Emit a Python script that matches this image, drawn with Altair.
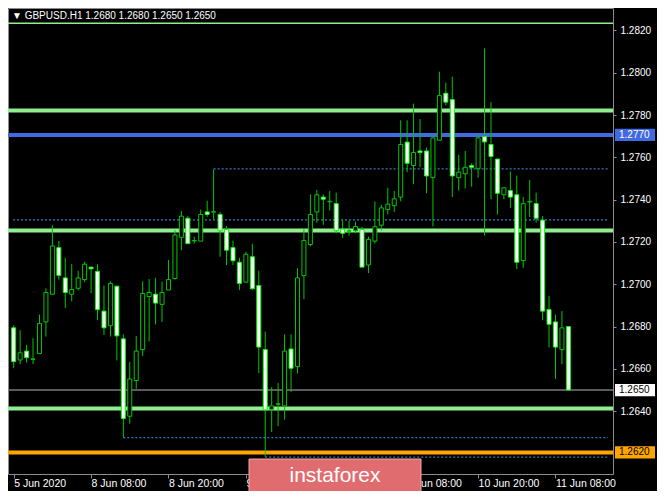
import json
import altair as alt
import pandas as pd

# ---------------- data (GBPUSD H1) ----------------
opens = [1.26794, 1.26642, 1.26684, 1.26645, 1.26672, 1.26822, 1.26953, 1.27173, 1.27030, 1.26953,
         1.26981, 1.27022, 1.27081, 1.27061, 1.26873, 1.26804, 1.26991, 1.26742, 1.26376, 1.26545,
         1.26691, 1.26942, 1.26953, 1.26905, 1.26973, 1.27027, 1.27222, 1.27312, 1.27205, 1.27204,
         1.27342, 1.27341, 1.27330, 1.27259, 1.27173, 1.27104, 1.27010, 1.27130, 1.26994, 1.26691,
         1.26409, 1.26433, 1.26425, 1.26694, 1.26611, 1.27041, 1.27188, 1.27342, 1.27412, 1.27390,
         1.27381, 1.27261, 1.27251, 1.27253, 1.27259, 1.27091, 1.27204, 1.27279, 1.27353, 1.27372,
         1.27412, 1.27672, 1.27561, 1.27630, 1.27630, 1.27504, 1.27681, 1.27903, 1.27873, 1.27504,
         1.27522, 1.27561, 1.27546, 1.27698, 1.27661, 1.27592, 1.27423, 1.27443, 1.27423, 1.27112,
         1.27389, 1.27381, 1.27303, 1.26880, 1.26822, 1.26691, 1.26800]
highs = [1.26806, 1.26783, 1.26714, 1.26745, 1.26856, 1.26981, 1.27279, 1.27204, 1.27125, 1.27095,
         1.27064, 1.27107, 1.27081, 1.27095, 1.26994, 1.27014, 1.26991, 1.26764, 1.26633, 1.26756,
         1.27014, 1.27025, 1.27030, 1.27013, 1.27115, 1.27256, 1.27346, 1.27322, 1.27225, 1.27353,
         1.27395, 1.27543, 1.27342, 1.27275, 1.27207, 1.27125, 1.27153, 1.27192, 1.27064, 1.26776,
         1.26514, 1.26533, 1.26764, 1.26764, 1.27076, 1.27261, 1.27425, 1.27446, 1.27425, 1.27441,
         1.27433, 1.27303, 1.27299, 1.27296, 1.27272, 1.27225, 1.27392, 1.27376, 1.27456, 1.27441,
         1.27775, 1.27775, 1.27854, 1.27781, 1.27646, 1.27695, 1.28005, 1.27954, 1.27982, 1.27612,
         1.27630, 1.27572, 1.27704, 1.28115, 1.27861, 1.27592, 1.27456, 1.27533, 1.27514, 1.27413,
         1.27493, 1.27433, 1.27322, 1.26945, 1.26856, 1.26873, 1.26800]
lows = [1.26603, 1.26622, 1.26630, 1.26622, 1.26672, 1.26753, 1.26953, 1.27022, 1.26888, 1.26919,
        1.26971, 1.27010, 1.26958, 1.26830, 1.26760, 1.26753, 1.26640, 1.26275, 1.26340, 1.26506,
        1.26661, 1.26730, 1.26810, 1.26822, 1.26973, 1.27022, 1.27161, 1.27192, 1.27192, 1.27204,
        1.27319, 1.27307, 1.27130, 1.27091, 1.27091, 1.26973, 1.27010, 1.26973, 1.26580, 1.26183,
        1.26302, 1.26329, 1.26360, 1.26491, 1.26579, 1.26930, 1.27179, 1.27291, 1.27281, 1.27349,
        1.27241, 1.27219, 1.27230, 1.27241, 1.27081, 1.27053, 1.27192, 1.27253, 1.27330, 1.27342,
        1.27392, 1.27530, 1.27473, 1.27553, 1.27430, 1.27273, 1.27681, 1.27846, 1.27412, 1.27443,
        1.27453, 1.27461, 1.27504, 1.27230, 1.27402, 1.27330, 1.27402, 1.27361, 1.27072, 1.27078,
        1.27318, 1.27291, 1.26830, 1.26702, 1.26552, 1.26622, 1.26500]
closes = [1.26634, 1.26676, 1.26653, 1.26647, 1.26814, 1.26961, 1.27181, 1.27042, 1.26961, 1.26975,
          1.27030, 1.27095, 1.27073, 1.26880, 1.26794, 1.27004, 1.26756, 1.26365, 1.26552, 1.26684,
          1.26956, 1.26961, 1.26911, 1.26961, 1.27022, 1.27233, 1.27322, 1.27192, 1.27207, 1.27330,
          1.27330, 1.27343, 1.27253, 1.27161, 1.27111, 1.27004, 1.27142, 1.26979, 1.26703, 1.26406,
          1.26425, 1.26435, 1.26684, 1.26603, 1.27030, 1.27207, 1.27330, 1.27423, 1.27402, 1.27392,
          1.27253, 1.27241, 1.27253, 1.27273, 1.27081, 1.27212, 1.27272, 1.27361, 1.27379, 1.27404,
          1.27661, 1.27572, 1.27623, 1.27623, 1.27512, 1.27692, 1.27892, 1.27861, 1.27512, 1.27530,
          1.27553, 1.27553, 1.27692, 1.27673, 1.27604, 1.27430, 1.27456, 1.27412, 1.27104, 1.27381,
          1.27392, 1.27312, 1.26873, 1.26811, 1.26703, 1.26794, 1.26500]

x_tick_pos = [0, 12, 24, 36, 48, 60, 72, 84]
x_tick_labels = ["5 Jun 2020", "8 Jun 08:00", "8 Jun 20:00", "9 Jun 08:00",
                 "9 Jun 20:00", "10 Jun 08:00", "10 Jun 20:00", "11 Jun 08:00"]
y_ticks = [1.2640, 1.2660, 1.2680, 1.2700, 1.2720, 1.2740, 1.2760, 1.2780, 1.2800, 1.2820]

# horizontal levels
solid_prices = [1.28234, 1.27821, 1.27706, 1.27254, 1.26413, 1.26205, 1.26500]
solid_colors = ["#90ee90", "#90ee90", "#4169e1", "#90ee90", "#90ee90", "#ffa500", "#7a7a7a"]
solid_widths = [1.5, 4, 4, 4, 4, 4, 1.5]

dotted_prices = [1.27545, 1.27304, 1.26275, 1.26183]
dotted_start = [31, -0.105, 17, 39]

label_prices = [1.27706, 1.26500, 1.26205]
label_texts = ["1.2770", "1.2650", "1.2620"]
label_fills = ["#4169e1", "#ffffff", "#ffa500"]
label_text_colors = ["#ffffff", "#000000", "#000000"]

header_text = ["\u25bc GBPUSD.H1  1.2680 1.2680 1.2650 1.2650"]
watermark_text = ["instaforex"]

# ---------------- chart ----------------
W, H = 605, 466
XMIN, XMAX = -0.105, 92.14
YMIN, YMAX = 1.26103, 1.28306

candles = pd.DataFrame({
    "i": list(range(len(opens))),
    "open": opens, "high": highs, "low": lows, "close": closes,
})
candles["dir"] = ["up" if c > o else "down" for o, c in zip(opens, closes)]

xs = alt.Scale(domain=[XMIN, XMAX], nice=False, zero=False)
ys = alt.Scale(domain=[YMIN, YMAX], nice=False, zero=False)

label_expr = f"{json.dumps(x_tick_labels)}[indexof({json.dumps(x_tick_pos)}, datum.value)]"

x_axis = alt.Axis(values=x_tick_pos, labelExpr=label_expr, tickSize=4, labelPadding=0,
                  labelAlign="left", labelBaseline="top", labelFontSize=10.5, grid=False,
                  domain=False, title=None, labelFlush=False, labelOverlap=False,
                  labelColor="#ffffff", tickColor="#8c8c8c", labelFont="Liberation Sans")
y_axis = alt.Axis(orient="right", values=y_ticks, format=".4f", tickSize=3, labelPadding=4,
                  grid=False, domain=False, title=None, labelFontSize=10, labelOverlap=False,
                  labelColor="#ffffff", tickColor="#8c8c8c", labelFont="Liberation Sans")

solid_df = pd.DataFrame({"price": solid_prices, "color": solid_colors, "w": solid_widths})
solid = alt.Chart(solid_df).mark_rule().encode(
    y=alt.Y("price:Q", scale=ys, axis=y_axis),
    color=alt.Color("color:N", scale=None),
    strokeWidth=alt.StrokeWidth("w:Q", scale=None),
)

dotted_df = pd.DataFrame({"price": dotted_prices, "start": dotted_start,
                          "end": [XMAX] * len(dotted_prices)})
dotted = alt.Chart(dotted_df).mark_rule(color="#3579c8", strokeWidth=1.2, strokeDash=[2, 2]).encode(
    x=alt.X("start:Q", scale=xs, axis=x_axis),
    x2="end:Q",
    y=alt.Y("price:Q", scale=ys, axis=y_axis),
)

wicks = alt.Chart(candles).mark_rule(color="#00c800", strokeWidth=1).encode(
    x=alt.X("i:Q", scale=xs, axis=x_axis),
    y=alt.Y("low:Q", scale=ys, axis=y_axis),
    y2="high:Q",
)

bodies = alt.Chart(candles).mark_bar(size=4, strokeWidth=1).encode(
    x=alt.X("i:Q", scale=xs, axis=x_axis),
    y=alt.Y("open:Q", scale=ys, axis=y_axis),
    y2="close:Q",
    fill=alt.Fill("dir:N", scale=alt.Scale(domain=["up", "down"], range=["#000000", "#ffffff"]),
                  legend=None),
    stroke=alt.Stroke("dir:N", scale=alt.Scale(domain=["up", "down"], range=["#00c800", "#00ff00"]),
                      legend=None),
)

lab_df = pd.DataFrame({"price": label_prices, "txt": label_texts,
                       "fill": label_fills, "tc": label_text_colors})
lab_boxes = alt.Chart(lab_df).transform_calculate(
    lo="datum.price - 0.00029", hi="datum.price + 0.00029"
).mark_rect().encode(
    x=alt.value(W + 2), x2=alt.value(W + 42),
    y=alt.Y("lo:Q", scale=ys, axis=y_axis), y2="hi:Q",
    fill=alt.Fill("fill:N", scale=None),
)
lab_text = alt.Chart(lab_df).mark_text(align="left", baseline="middle", font="Liberation Sans",
                                       fontSize=10).encode(
    x=alt.value(W + 6),
    y=alt.Y("price:Q", scale=ys, axis=y_axis),
    text="txt:N",
    color=alt.Color("tc:N", scale=None),
)

header = alt.Chart(pd.DataFrame({"t": header_text})).mark_text(
    align="left", baseline="middle", font="Liberation Sans", fontSize=10, color="#ffffff"
).encode(x=alt.value(4), y=alt.value(8), text="t:N")

wm_box = alt.Chart(pd.DataFrame({"t": watermark_text})).mark_rect(
    fill="#e16c6f", stroke="#f2a6a6", strokeWidth=1
).encode(x=alt.value(241), x2=alt.value(413), y=alt.value(451), y2=alt.value(490))
wm_text = alt.Chart(pd.DataFrame({"t": watermark_text})).mark_text(
    align="center", baseline="middle", font="Liberation Sans", fontSize=21, color="#ffffff"
).encode(x=alt.value(327), y=alt.value(468), text="t:N")

chart = alt.layer(
    solid, dotted, wicks, bodies, lab_boxes, lab_text, header, wm_box, wm_text
).properties(
    width=W, height=H,
    autosize=alt.AutoSizeParams(type="none"),
    padding={"left": 0, "top": 0, "right": 44, "bottom": 17},
).configure(
    background="#000000"
).configure_view(
    stroke="#8c8c8c", strokeWidth=1
)

chart.save("out.html", embed_options={"renderer": "svg", "actions": False})
